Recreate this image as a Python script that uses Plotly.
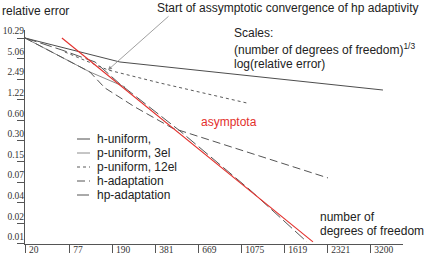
import numpy as np
import plotly.graph_objects as go

# ---------------- data ----------------
# degrees of freedom and relative error (%) for each strategy
h_uniform_dof = [20, 218, 3500]
h_uniform_err = [10.29, 4.51, 1.72]

p_uniform3_dof = [20, 123, 238]
p_uniform3_err = [10.29, 3.20, 1.91]

p_uniform12_dof = [69, 176, 408, 1140]
p_uniform12_err = [6.36, 3.43, 2.19, 1.10]

h_adapt_dof = [20, 123, 166, 280, 481, 684, 2336]
h_adapt_err = [10.29, 3.20, 1.85, 0.961, 0.467, 0.342, 0.0837]

hp_adapt_dof = [20, 64, 137, 218, 534, 1175, 1970]
hp_adapt_err = [10.29, 6.81, 4.51, 2.12, 0.421, 0.0554, 0.00928]

asym_dof = [64, 2070]
asym_err = [10.29, 0.00928]

x_tick_labels = [20, 77, 190, 381, 669, 1075, 1619, 2321, 3200]
y_tick_labels = ["10.29", "5.06", "2.49", "1.22", "0.60", "0.30", "0.15",
                 "0.07", "0.04", "0.02", "0.01"]

legend_names = ["h-uniform,", "p-uniform, 3el", "p-uniform, 12el",
                "h-adaptation", "hp-adaptation"]

# ---------------- layout constants ----------------
W, H = 431, 257
ML, MR, MT, MB = 25, 28, 30, 13
PW, PH = W - ML - MR, H - MT - MB

def px(x):
    return (x - ML) / PW

def py(y):
    return (H - MB - y) / PH

cbrt = np.cbrt
x0 = float(cbrt(20))
xrange_ = [x0, x0 + PW / 28.71]
yrange_ = [-2.0635, 1.1318]

styles = [
    dict(color="#4d4d4d", width=1, dash="solid"),
    dict(color="#8c8c8c", width=1, dash="solid"),
    dict(color="#5a5a5a", width=1, dash="3px,3px"),
    dict(color="#555555", width=1, dash="8px,4px"),
    dict(color="#555555", width=1, dash="12px,4px"),
]
series = [
    (h_uniform_dof, h_uniform_err),
    (p_uniform3_dof, p_uniform3_err),
    (p_uniform12_dof, p_uniform12_err),
    (h_adapt_dof, h_adapt_err),
    (hp_adapt_dof, hp_adapt_err),
]

fig = go.Figure()
for name, (d, e), st in zip(legend_names, series, styles):
    fig.add_trace(go.Scatter(x=cbrt(np.array(d, float)), y=e, mode="lines",
                             name=name, line=st, showlegend=False,
                             cliponaxis=False))
fig.add_trace(go.Scatter(x=cbrt(np.array(asym_dof, float)), y=asym_err,
                         mode="lines", name="asymptota",
                         line=dict(color="#e3302c", width=1.1),
                         showlegend=False, cliponaxis=False))

sans = "Liberation Sans, Arial, sans-serif"
serif = "Liberation Serif, Times New Roman, serif"

ratio = 2.03
y_tickvals = [10.29 / ratio ** k for k in range(len(y_tick_labels))]

fig.update_xaxes(range=xrange_, showgrid=False, zeroline=False,
                 showline=True, linecolor="#555", linewidth=1,
                 ticks="outside", ticklen=8, tickcolor="#555", tickwidth=1,
                 tickvals=cbrt(np.array(x_tick_labels, float)),
                 ticktext=[str(v) for v in x_tick_labels],
                 ticklabelposition="outside right", ticklabelstandoff=-3,
                 ticklabelshift=3, automargin=False,
                 tickfont=dict(family=serif, size=9.5, color="#333"))
fig.update_yaxes(type="log", range=yrange_, showgrid=False, zeroline=False,
                 showline=True, linecolor="#555", linewidth=1,
                 ticks="outside", ticklen=7, tickcolor="#555", tickwidth=1,
                 tickvals=y_tickvals, ticktext=y_tick_labels,
                 ticklabelposition="outside top", ticklabelstandoff=-2,
                 automargin=False,
                 tickfont=dict(family=serif, size=9.5, color="#333"))

ann = []
def text(x, y, s, size=12, color="#222", xanchor="left"):
    ann.append(dict(x=px(x), y=py(y), xref="paper", yref="paper", text=s,
                    showarrow=False, xanchor=xanchor, yanchor="middle",
                    font=dict(family=sans, size=size, color=color)))

text(0, 11, "relative error")
text(155, 8, "Start of assymptotic convergence of hp adaptivity")
text(232, 33, "Scales:")
text(232, 49, "(number of degrees of freedom)<sup>1/3</sup>")
text(232, 64, "log(relative error)")
text(199, 122, "asymptota", color="#e3302c")
text(318, 217, "number of")
text(318, 231, "degrees of freedom")

ann.append(dict(x=px(108), y=py(70), xref="paper", yref="paper", text="",
                showarrow=True, ax=62, ay=-55, arrowhead=2, arrowsize=1,
                arrowwidth=0.8, arrowcolor="#888"))

shapes = []
leg_y = [139, 153, 167, 181, 195]
for name, st, yy in zip(legend_names, styles, leg_y):
    shapes.append(dict(type="line", xref="paper", yref="paper",
                       x0=px(77), x1=px(90), y0=py(yy), y1=py(yy),
                       line=st))
    text(95, yy, name)

fig.update_layout(width=W, height=H, margin=dict(l=ML, r=MR, t=MT, b=MB),
                  paper_bgcolor="white", plot_bgcolor="white",
                  annotations=ann, shapes=shapes, showlegend=False)

fig.write_html("out.html")
